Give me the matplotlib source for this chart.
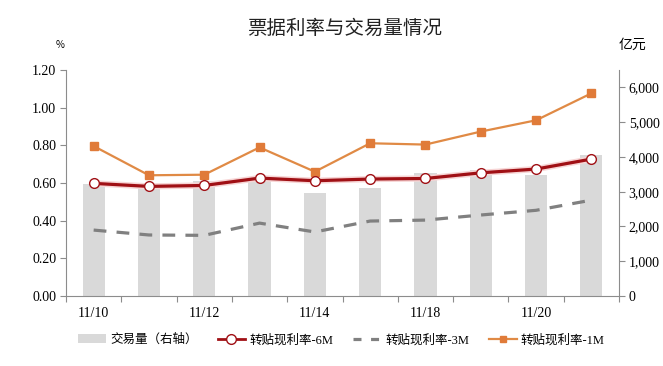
import matplotlib
matplotlib.use("Agg")
import matplotlib.pyplot as plt
import matplotlib.patheffects as pe
from matplotlib.lines import Line2D
from matplotlib.patches import Patch
import numpy as np

dates = ['11/10', '11/11', '11/12', '11/13', '11/14', '11/17', '11/18', '11/19', '11/20', '11/21']
volume = [3230, 3190, 3295, 3325, 2975, 3115, 3536, 3610, 3487, 4063]
rate_6m = [0.598, 0.582, 0.587, 0.626, 0.612, 0.621, 0.624, 0.654, 0.674, 0.727]
rate_3m = [0.350, 0.324, 0.322, 0.387, 0.340, 0.398, 0.403, 0.430, 0.455, 0.509]
rate_1m = [0.796, 0.641, 0.644, 0.789, 0.660, 0.811, 0.804, 0.873, 0.933, 1.076]
left_ticks = [0.0, 0.2, 0.4, 0.6, 0.8, 1.0, 1.2]
right_ticks = [0, 1000, 2000, 3000, 4000, 5000, 6000]

serif = ['Liberation Serif', 'Noto Sans CJK SC']
cjk = ['Noto Sans CJK SC', 'DejaVu Sans']
plt.rcParams['font.family'] = serif

fig = plt.figure(figsize=(6.63, 3.66), dpi=100)
ax = fig.add_axes([66/663, 1-296/366, (619-66)/663, (296-70)/366])
ax2 = ax.twinx()

x = np.arange(len(dates))
ax2.bar(x, volume, width=0.4, color='#D9D9D9', zorder=1)
ax2.set_ylim(0, 6500)
ax.set_zorder(ax2.get_zorder() + 1)
ax.patch.set_visible(False)

ax.plot(x, rate_3m, color='#808080', lw=2.3, dashes=(4, 3.2), zorder=3)
ax.plot(x, rate_1m, color='#E08A45', lw=1.6, marker='s', ms=5.2,
        mfc='#E07B39', mec='#E07B39', zorder=4)
ax.plot(x, rate_6m, color='#A01015', lw=2.3, zorder=5,
        path_effects=[pe.Stroke(linewidth=4.5, foreground='#F7D5D5'), pe.Normal()])
ax.plot(x, rate_6m, ls='none', marker='o', ms=7,
        mfc='white', mec='#A01015', mew=1.0, zorder=6)

ax.set_ylim(0, 1.2)
ax.set_xlim(-0.5, len(dates) - 0.5)
ax.set_yticks(left_ticks)
ax.set_yticklabels([f'{v:.2f}' for v in left_ticks])
ax2.set_yticks(right_ticks)
ax2.set_yticklabels([f'{v:,}' for v in right_ticks])

ax.set_xticks(np.arange(-0.5, len(dates), 1.0))
ax.set_xticklabels([])
ax.set_xticks(x[::2], minor=True)
ax.set_xticklabels(dates[::2], minor=True)
ax.tick_params(axis='x', which='minor', length=0, pad=8, labelsize=10)
ax.tick_params(axis='x', which='major', length=4, color='#8C8C8C')

spine_c = '#8C8C8C'
for a in (ax, ax2):
    a.spines['top'].set_visible(False)
    a.spines['left'].set_color(spine_c)
    a.spines['right'].set_color(spine_c)
    a.spines['bottom'].set_color(spine_c)
ax.spines['right'].set_visible(False)
ax2.spines['left'].set_visible(False)
ax2.spines['bottom'].set_visible(False)
ax.tick_params(axis='y', length=4, color=spine_c, labelsize=10, pad=3)
ax2.tick_params(axis='y', length=4, color=spine_c, labelsize=10, pad=3)

fig.text(0.52, 1-28/366, '票据利率与交易量情况', ha='center', va='center',
         fontsize=14, family=cjk, color='#222222')
fig.text(60/663, 1-45/366, '%', ha='center', va='center', fontsize=7, family=cjk)
fig.text(632/663, 1-45/366, '亿元', ha='center', va='center', fontsize=10, family=cjk)

handles = [
    Patch(facecolor='#D9D9D9', edgecolor='none'),
    Line2D([], [], color='#A01015', lw=2, marker='o', ms=7, mfc='white', mec='#A01015'),
    Line2D([], [], color='#808080', lw=2.3, dashes=(2.5, 3)),
    Line2D([], [], color='#E08A45', lw=1.6, marker='s', ms=5, mfc='#E07B39', mec='#E07B39'),
]
labels = ['交易量（右轴）', '转贴现利率-6M', '转贴现利率-3M', '转贴现利率-1M']
fig.legend(handles, labels, loc='center', bbox_to_anchor=(0.515, 1-340/366), ncol=4,
           frameon=False, prop={'family': serif, 'size': 9}, handlelength=2.2,
           columnspacing=1.6, handletextpad=0.35)

fig.savefig('out.png', dpi=100)
